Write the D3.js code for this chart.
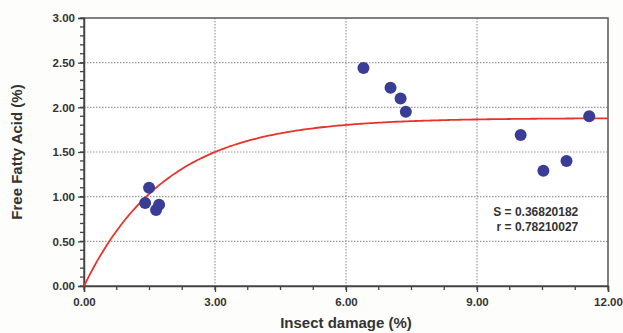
<!DOCTYPE html>
<html>
<head>
<meta charset="utf-8">
<script src="https://cdn.jsdelivr.net/npm/d3@7"></script>
<style>
  body { margin: 0; background: #fdfdfb; }
  svg { display: block; font-family: "Liberation Sans", Arial, sans-serif; }
</style>
</head>
<body>
<div id="chart"></div>
<script>
// observed points (insect damage %, free fatty acid %)
var damage = [1.49, 1.40, 1.65, 1.72, 6.40, 7.02, 7.25, 7.37, 10.00, 10.52, 11.05, 11.57];
var ffa    = [1.10, 0.93, 0.85, 0.91, 2.44, 2.22, 2.10, 1.95, 1.69, 1.29, 1.40, 1.90];

// fitted exponential association curve y = a(1 - e^(-b x))
var fitA = 1.88, fitB = 0.533;
var fitStats = ["S = 0.36820182", "r = 0.78210027"];

var xTicks = [0, 3, 6, 9, 12];
var yTicks = [0, 0.5, 1, 1.5, 2, 2.5, 3];

var margin = { top: 18, right: 15, bottom: 47, left: 84 },
    width = 623 - margin.left - margin.right,
    height = 333 - margin.top - margin.bottom;

var svg = d3.select("#chart").append("svg")
    .attr("width", 623)
    .attr("height", 333);

svg.append("rect").attr("width", 623).attr("height", 333).attr("fill", "#fdfdfb");

var g = svg.append("g")
    .attr("transform", "translate(" + margin.left + "," + margin.top + ")");

var x = d3.scaleLinear().domain([0, 12]).range([0, width]);
var y = d3.scaleLinear().domain([0, 3]).range([height, 0]);

g.append("rect").attr("width", width).attr("height", height).attr("fill", "#ffffff");

// dotted grid
g.selectAll(".hgrid")
    .data(yTicks.filter(d => d > 0 && d < 3))
    .enter().append("line")
    .attr("x1", 0).attr("x2", width)
    .attr("y1", d => y(d)).attr("y2", d => y(d))
    .attr("stroke", "#9a9a9a").attr("stroke-width", 1.2)
    .attr("stroke-dasharray", "1.5,1.5");

g.selectAll(".vgrid")
    .data(xTicks.filter(d => d > 0 && d < 12))
    .enter().append("line")
    .attr("y1", 0).attr("y2", height)
    .attr("x1", d => x(d)).attr("x2", d => x(d))
    .attr("stroke", "#9a9a9a").attr("stroke-width", 1.2)
    .attr("stroke-dasharray", "1.5,1.5");

// frame
g.append("rect").attr("width", width).attr("height", height)
    .attr("fill", "none").attr("stroke", "#555").attr("stroke-width", 1.5);

// minor ticks
var yMinor = d3.range(0, 3.0001, 0.1);
g.append("g").selectAll("line").data(yMinor).enter().append("line")
    .attr("x1", 0).attr("x2", -4)
    .attr("y1", d => y(d)).attr("y2", d => y(d))
    .attr("stroke", "#444").attr("stroke-width", 1.3);

var xMinor = d3.range(0, 12.0001, 0.75);
g.append("g").selectAll("line").data(xMinor).enter().append("line")
    .attr("y1", height).attr("y2", height + 4)
    .attr("x1", d => x(d)).attr("x2", d => x(d))
    .attr("stroke", "#444").attr("stroke-width", 1.3);

// axes
var yAxis = g.append("g")
    .call(d3.axisLeft(y).tickValues(yTicks).tickFormat(d3.format(".2f")).tickSize(6).tickPadding(3));
var xAxis = g.append("g")
    .attr("transform", "translate(0," + height + ")")
    .call(d3.axisBottom(x).tickValues(xTicks).tickFormat(d3.format(".2f")).tickSize(6).tickPadding(6));

[xAxis, yAxis].forEach(function(a) {
    a.select(".domain").attr("stroke", "#444").attr("stroke-width", 1.5);
    a.selectAll(".tick line").attr("stroke", "#444").attr("stroke-width", 1.3);
    a.selectAll("text")
        .attr("fill", "#333")
        .style("font-size", "11.5px")
        .style("font-weight", "bold");
});

// fit curve
var curveX = d3.range(0, 12.0001, 0.05);
var line = d3.line()
    .x(d => x(d))
    .y(d => y(fitA * (1 - Math.exp(-fitB * d))));

g.append("path")
    .datum(curveX)
    .attr("d", line)
    .attr("fill", "none")
    .attr("stroke", "#e8332b")
    .attr("stroke-width", 1.8);

// points
g.selectAll(".pt")
    .data(damage.map((d, i) => [d, ffa[i]]))
    .enter().append("circle")
    .attr("cx", d => x(d[0]))
    .attr("cy", d => y(d[1]))
    .attr("r", 6)
    .attr("fill", "#3a3d96");

// stats text
g.selectAll(".stat")
    .data(fitStats)
    .enter().append("text")
    .attr("x", x(11.32))
    .attr("y", (d, i) => y(0.78) + i * 15)
    .attr("text-anchor", "end")
    .attr("fill", "#333")
    .style("font-size", "12px")
    .style("font-weight", "bold")
    .text(d => d);

// axis titles
svg.append("text")
    .attr("x", margin.left + width / 2)
    .attr("y", 328)
    .attr("text-anchor", "middle")
    .attr("fill", "#333")
    .style("font-size", "15px")
    .style("font-weight", "bold")
    .text("Insect damage (%)");

svg.append("text")
    .attr("transform", "translate(22," + (margin.top + height / 2) + ") rotate(-90)")
    .attr("text-anchor", "middle")
    .attr("fill", "#333")
    .style("font-size", "15px")
    .style("font-weight", "bold")
    .text("Free Fatty Acid (%)");
</script>
</body>
</html>
